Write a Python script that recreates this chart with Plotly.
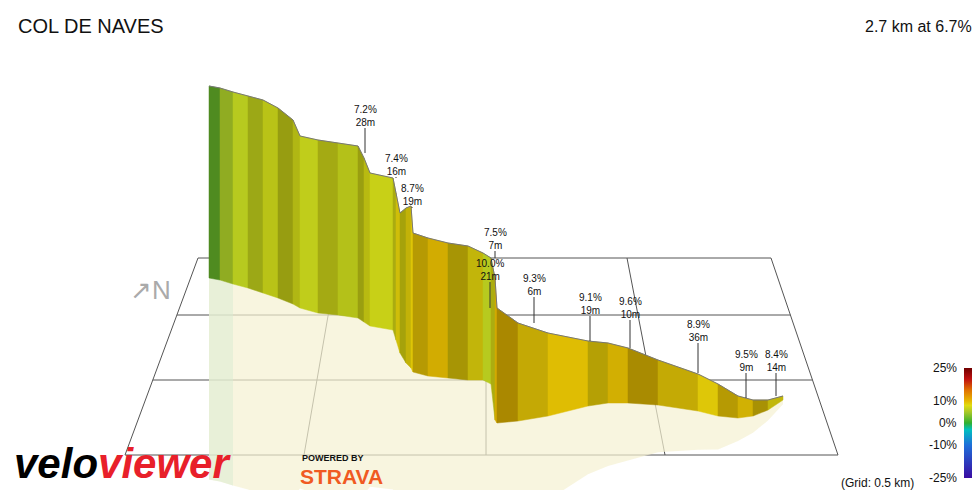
import plotly.graph_objects as go
from plotly.colors import sample_colorscale

# route profile (screen units, 980x490 canvas)
route_x = [201, 212, 225, 240, 255, 270, 285, 292, 310, 330, 350, 356, 362, 385, 388, 392, 398,
           403, 405, 420, 440, 460, 475, 483, 487, 489, 510, 540, 580, 600, 620, 650, 690, 710,
           730, 745, 760, 775]
route_top = [78, 80, 84, 88, 92, 100, 112, 128, 132, 135, 138, 150, 165, 170, 185, 205, 200,
             198, 225, 230, 235, 238, 245, 250, 270, 300, 315, 325, 333, 335, 340, 352, 366, 376,
             388, 392, 392, 388]
route_base = [270, 272, 276, 280, 285, 290, 296, 300, 305, 307, 310, 314, 318, 322, 332, 345, 355,
              360, 364, 368, 370, 372, 372, 376, 412, 415, 413, 408, 398, 395, 395, 397, 403, 408,
              410, 408, 402, 392]
grade = [2.5, 5, 6, 6.5, 6.8, 7, 7, 6.5, 7, 6.5, 7.2, 7.5, 7, 7.4, 8.7, 8, 8.7, 9, 9.5, 9.8, 9,
         8.5, 6, 7.5, 10, 10, 9.3, 9.5, 9.1, 9.6, 9.8, 9.2, 8.9, 9.5, 9.5, 9.3, 8.4]

labels = ["7.2%<br>28m", "7.4%<br>16m", "8.7%<br>19m", "7.5%<br>7m", "10.0%<br>21m", "9.3%<br>6m",
          "9.1%<br>19m", "9.6%<br>10m", "8.9%<br>36m", "9.5%<br>9m", "8.4%<br>14m"]
label_x = [357, 388, 404, 487, 482, 526, 582, 622, 690, 738, 768]
label_y = [108, 157, 187, 231, 262, 277, 296, 300, 323, 353, 353]
label_tip = [145, 170, 200, 250, 300, 315, 333, 340, 365, 390, 388]

scale = [[0.0, "#3a0ca3"], [0.3, "#1e6fd9"], [0.44, "#00c0c0"], [0.5, "#30b030"],
         [0.6, "#a8c828"], [0.66, "#e0dc10"], [0.7, "#e6b800"], [0.8, "#e07000"],
         [0.9, "#c01010"], [1.0, "#700000"]]


def shade(c, f):
    c = c.strip("rgb()").split(",")
    return "rgb(%d,%d,%d)" % tuple(int(float(v) * f) for v in c)


fig = go.Figure()

# grid plane
W, H = 980, 490
back_y, front_y = 250, 447
back_l, back_r, front_l, front_r = 190, 763, 117, 830
rows = [250, 307, 372, 447]
gx, gy = [], []
for r in rows:
    t = (r - back_y) / (front_y - back_y)
    gx += [back_l + (front_l - back_l) * t, back_r + (front_r - back_r) * t, None]
    gy += [r, r, None]
gx += [back_l, front_l, None, back_r, front_r, None]
gy += [back_y, front_y, None, back_y, front_y, None]
for bx, fx in [(330, 296), (478, 478), (619, 657)]:
    gx += [bx, fx, None]
    gy += [back_y, front_y, None]
fig.add_trace(go.Scatter(x=gx, y=gy, mode="lines", line=dict(color="#555", width=1),
                         hoverinfo="skip", showlegend=False))

# reflection below the wall
ref_bottom = [min(b + (b - t) * 1.05, 492) for t, b in zip(route_top, route_base)]
fig.add_trace(go.Scatter(x=route_x + route_x[::-1], y=route_base + ref_bottom[::-1],
                         mode="lines", fill="toself", fillcolor="rgba(245,241,210,0.7)",
                         line=dict(width=0), hoverinfo="skip", showlegend=False))
fig.add_trace(go.Scatter(x=route_x[:3] + route_x[2::-1], y=route_base[:3] + ref_bottom[2::-1],
                         mode="lines", fill="toself", fillcolor="rgba(215,235,210,0.5)",
                         line=dict(width=0), hoverinfo="skip", showlegend=False))

# wall strips
cols = sample_colorscale(scale, [(g + 25) / 50 for g in grade])
for i in range(len(grade)):
    f = 0.74 + 0.24 * ((i * 7) % 5) / 4
    xs = [route_x[i], route_x[i + 1], route_x[i + 1], route_x[i], route_x[i]]
    ys = [route_top[i], route_top[i + 1], route_base[i + 1], route_base[i], route_top[i]]
    fig.add_trace(go.Scatter(x=xs, y=ys, mode="lines", fill="toself", fillcolor=shade(cols[i], f),
                             line=dict(width=0.5, color=shade(cols[i], f)),
                             hoverinfo="skip", showlegend=False))
fig.add_trace(go.Scatter(x=route_x, y=route_top, mode="lines", line=dict(color="#777", width=1),
                         hoverinfo="skip", showlegend=False))

# labels with leader lines
for t, x, y, tip in zip(labels, label_x, label_y, label_tip):
    fig.add_trace(go.Scatter(x=[x, x], y=[y + 12, tip], mode="lines",
                             line=dict(color="#333", width=1), hoverinfo="skip", showlegend=False))
    fig.add_annotation(x=x, y=y, text=t, showarrow=False, font=dict(size=10, color="#111"))

# colour bar
fig.add_trace(go.Scatter(x=[-50], y=[-50], mode="markers", showlegend=False, hoverinfo="skip",
                         marker=dict(color=[0], cmin=-25, cmax=25, colorscale=scale,
                                     colorbar=dict(x=956 / 980, xanchor="left", xpad=0, ypad=0,
                                                   y=1 - 415 / 490, yanchor="middle",
                                                   len=110 / 490, thickness=14,
                                                   outlinewidth=0, showticklabels=False, ticks=""))))
for v, t in [(25, "25%"), (10, "10%"), (0, "0%"), (-10, "-10%"), (-25, "-25%")]:
    fig.add_annotation(x=951, y=360 + (25 - v) * 110 / 50, text=t, showarrow=False,
                       xanchor="right", font=dict(size=12, color="#111"))
fig.add_annotation(x=908, y=475, text="(Grid: 0.5 km)", showarrow=False, xanchor="right",
                   font=dict(size=12, color="#111"))

# titles and branding
fig.add_annotation(x=8, y=18, text="COL DE NAVES", showarrow=False, xanchor="left",
                   font=dict(size=20, color="#111"))
fig.add_annotation(x=966, y=18, text="2.7 km at 6.7%", showarrow=False, xanchor="right",
                   font=dict(size=16, color="#111"))
fig.add_annotation(x=142, y=282, text="↗N", showarrow=False, font=dict(size=26, color="#aaa"))
fig.add_annotation(x=4, y=455, text="<b><i>velo<span style='color:#e8202a'>viewer</span></i></b>",
                   showarrow=False, xanchor="left",
                   font=dict(size=42, color="#000", family="Liberation Sans"))
fig.add_annotation(x=292, y=450, text="<b>POWERED BY</b>", showarrow=False, xanchor="left",
                   font=dict(size=9, color="#111"))
fig.add_annotation(x=290, y=468, text="<b>STRAVA</b>", showarrow=False, xanchor="left",
                   font=dict(size=21, color="#f05a22"))

fig.update_layout(width=W, height=H, margin=dict(l=0, r=0, t=0, b=0),
                  paper_bgcolor="white", plot_bgcolor="white",
                  font=dict(family="Liberation Sans"),
                  xaxis=dict(range=[0, W], visible=False, fixedrange=True),
                  yaxis=dict(range=[H, 0], visible=False, fixedrange=True))
fig.write_html("out.html")
